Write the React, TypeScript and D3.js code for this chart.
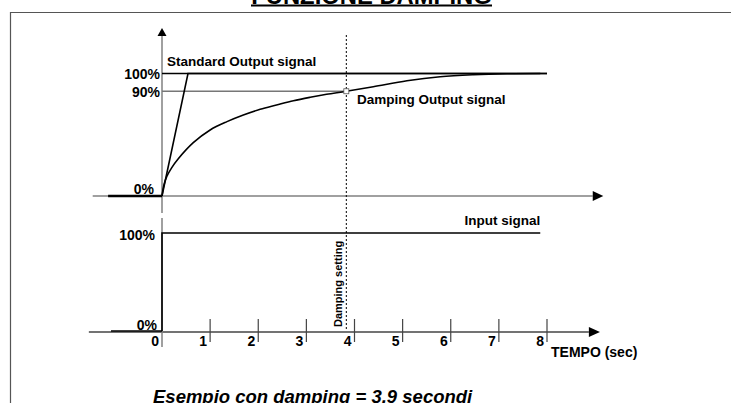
import React, { useRef, useEffect } from 'react';
import * as d3 from 'd3';

// time axis (seconds)
const timeTicks = [1, 2, 3, 4, 5, 6, 7, 8];
const dampingSetting = 3.83;

// damping output signal, % of full scale
const dampingCurve: [number, number][] = [
    [0, 0], [0.04, 9], [0.1, 16], [0.2, 23], [0.33, 30], [0.65, 43.5], [1.0, 53.9], [1.35, 60.7],
    [1.69, 66.1], [2.04, 70.8], [2.38, 74.3], [2.73, 77.8], [3.08, 80.6], [3.42, 83.0],
    [3.83, 85.5], [4.39, 89.2], [5.09, 94.1], [5.78, 97.4], [6.47, 99.0], [7.17, 99.8], [7.86, 100],
];

// standard output signal
const standardOutput: [number, number][] = [[-1.12, 0], [0, 0], [0.54, 100], [8, 100]];

// input signal (step)
const inputSignal: [number, number][] = [[-1.06, 0], [0, 0], [0, 100], [7.86, 100]];

// reference levels on the output chart
const outputLevels = [
    { label: '100%', value: 100, end: 8 },
    { label: '90%', value: 85.5, end: dampingSetting },
];

export default function App() {
    const svgRef = useRef<SVGSVGElement | null>(null);

    useEffect(() => {
        const width = 731;
        const height = 403;
        const font = 'Arial, "Liberation Sans", sans-serif';

        d3.select(svgRef.current).selectAll('*').remove();
        const svg = d3.select(svgRef.current).attr('width', width).attr('height', height);

        const x = d3.scaleLinear().domain([0, 8]).range([162, 547]);
        const yTop = d3.scaleLinear().domain([0, 100]).range([196, 73.5]);
        const yBot = d3.scaleLinear().domain([0, 100]).range([331, 233]);

        // frame
        svg.append('path')
            .attr('d', `M10.5,${height} V12.5 H${width}`)
            .attr('fill', 'none')
            .attr('stroke', '#555')
            .attr('stroke-width', 1.2);

        // title (cut at the top)
        svg.append('text')
            .attr('x', 371.5)
            .attr('y', 4)
            .attr('text-anchor', 'middle')
            .attr('font-family', font)
            .attr('font-weight', 'bold')
            .attr('font-size', 23.8)
            .text('FUNZIONE DAMPING');
        svg.append('line')
            .attr('x1', 251).attr('x2', 492)
            .attr('y1', 5.5).attr('y2', 5.5)
            .attr('stroke', '#000').attr('stroke-width', 2);

        const arrow = (pts: [number, number][]) =>
            svg.append('path').attr('d', 'M' + pts.join('L') + 'Z').attr('fill', '#000');

        // top chart axes
        svg.append('line')
            .attr('x1', x(-1.44)).attr('x2', x(8.95))
            .attr('y1', yTop(0)).attr('y2', yTop(0))
            .attr('stroke', '#808080').attr('stroke-width', 1.5);
        arrow([[x(8.95), yTop(0) - 5], [x(9.17), yTop(0)], [x(8.95), yTop(0) + 5]]);

        svg.append('line')
            .attr('x1', x(0)).attr('x2', x(0))
            .attr('y1', 213).attr('y2', 36)
            .attr('stroke', '#808080').attr('stroke-width', 1.5);
        arrow([[x(0) - 4.5, 36], [x(0), 28], [x(0) + 4.5, 36]]);

        // bottom chart axes
        const axisY = yBot(0) + 1;
        svg.append('line')
            .attr('x1', x(-1.52)).attr('x2', x(8.87))
            .attr('y1', axisY).attr('y2', axisY)
            .attr('stroke', '#444').attr('stroke-width', 1.3);
        arrow([[x(8.87), axisY - 5], [x(9.1), axisY], [x(8.87), axisY + 5]]);

        svg.append('line')
            .attr('x1', x(0)).attr('x2', x(0))
            .attr('y1', 218).attr('y2', 347)
            .attr('stroke', '#808080').attr('stroke-width', 1.5);

        timeTicks.forEach((t) => {
            svg.append('line')
                .attr('x1', x(t)).attr('x2', x(t))
                .attr('y1', axisY - 13).attr('y2', axisY + 10)
                .attr('stroke', '#444').attr('stroke-width', 1.2);
        });
        [0, ...timeTicks].forEach((t) => {
            svg.append('text')
                .attr('x', x(t) - 3)
                .attr('y', axisY + 14)
                .attr('text-anchor', 'end')
                .attr('font-family', font)
                .attr('font-weight', 'bold')
                .attr('font-size', 14)
                .text(String(t));
        });

        svg.append('text')
            .attr('x', x(8) + 4)
            .attr('y', 357)
            .attr('font-family', font)
            .attr('font-weight', 'bold')
            .attr('font-size', 14)
            .text('TEMPO (sec)');

        // reference levels
        outputLevels.forEach((l, i) => {
            svg.append('line')
                .attr('x1', x(0)).attr('x2', x(l.end))
                .attr('y1', yTop(l.value)).attr('y2', yTop(l.value))
                .attr('stroke', i === 0 ? '#000' : '#777')
                .attr('stroke-width', 1.4);
            svg.append('text')
                .attr('x', x(0) - 2)
                .attr('y', yTop(l.value) + 5.5)
                .attr('text-anchor', 'end')
                .attr('font-family', font)
                .attr('font-weight', 'bold')
                .attr('font-size', 14)
                .text(l.label);
        });
        svg.append('text')
            .attr('x', x(0) - 8).attr('y', yTop(0) - 2)
            .attr('text-anchor', 'end')
            .attr('font-family', font).attr('font-weight', 'bold').attr('font-size', 14)
            .text('0%');
        svg.append('text')
            .attr('x', x(0) - 7).attr('y', yBot(100) + 7)
            .attr('text-anchor', 'end')
            .attr('font-family', font).attr('font-weight', 'bold').attr('font-size', 14)
            .text('100%');
        svg.append('text')
            .attr('x', x(0) - 5).attr('y', yBot(0) - 1.5)
            .attr('text-anchor', 'end')
            .attr('font-family', font).attr('font-weight', 'bold').attr('font-size', 14)
            .text('0%');

        // damping setting line
        svg.append('line')
            .attr('x1', x(dampingSetting)).attr('x2', x(dampingSetting))
            .attr('y1', 35).attr('y2', yBot(0))
            .attr('stroke', '#000').attr('stroke-width', 1)
            .attr('stroke-dasharray', '2,2');
        svg.append('text')
            .attr('transform', `translate(${x(dampingSetting) - 4.5},327) rotate(-90)`)
            .attr('font-family', font).attr('font-weight', 'bold').attr('font-size', 11)
            .text('Damping setting');

        // signals
        const lineTop = d3.line<[number, number]>().x((d) => x(d[0])).y((d) => yTop(d[1]));
        const lineBot = d3.line<[number, number]>().x((d) => x(d[0])).y((d) => yBot(d[1]));

        svg.append('path')
            .attr('d', lineTop(standardOutput.slice(0, 2)))
            .attr('fill', 'none').attr('stroke', '#000').attr('stroke-width', 2.6);
        svg.append('path')
            .attr('d', lineTop(standardOutput.slice(1)))
            .attr('fill', 'none').attr('stroke', '#000').attr('stroke-width', 1.6);

        svg.append('path')
            .attr('d', lineTop.curve(d3.curveCatmullRom.alpha(0.5))(dampingCurve))
            .attr('fill', 'none').attr('stroke', '#000').attr('stroke-width', 1.6);

        svg.append('rect')
            .attr('x', x(dampingSetting) - 2.5).attr('y', yTop(85.5) - 2.5)
            .attr('width', 5).attr('height', 5)
            .attr('fill', '#fff').attr('stroke', '#555').attr('stroke-width', 0.8);

        svg.append('path')
            .attr('d', lineBot(inputSignal.slice(0, 2)))
            .attr('fill', 'none').attr('stroke', '#000').attr('stroke-width', 1.4);
        svg.append('path')
            .attr('d', lineBot(inputSignal.slice(1)))
            .attr('fill', 'none').attr('stroke', '#000').attr('stroke-width', 1.6);

        // labels
        svg.append('text')
            .attr('x', 167).attr('y', 66)
            .attr('font-family', font).attr('font-weight', 'bold').attr('font-size', 13.5)
            .text('Standard Output signal');
        svg.append('text')
            .attr('x', 357).attr('y', 104)
            .attr('font-family', font).attr('font-weight', 'bold').attr('font-size', 13.5)
            .text('Damping Output signal');
        svg.append('text')
            .attr('x', x(7.86)).attr('y', 225)
            .attr('text-anchor', 'end')
            .attr('font-family', font).attr('font-weight', 'bold').attr('font-size', 13.5)
            .text('Input signal');

        svg.append('text')
            .attr('x', 153).attr('y', 403)
            .attr('font-family', font).attr('font-weight', 'bold').attr('font-style', 'italic')
            .attr('font-size', 18.5)
            .text('Esempio con damping = 3.9 secondi');
    }, []);

    return <svg ref={svgRef} style={{ position: 'absolute', left: 0, top: 0, background: '#fff' }}></svg>;
}
